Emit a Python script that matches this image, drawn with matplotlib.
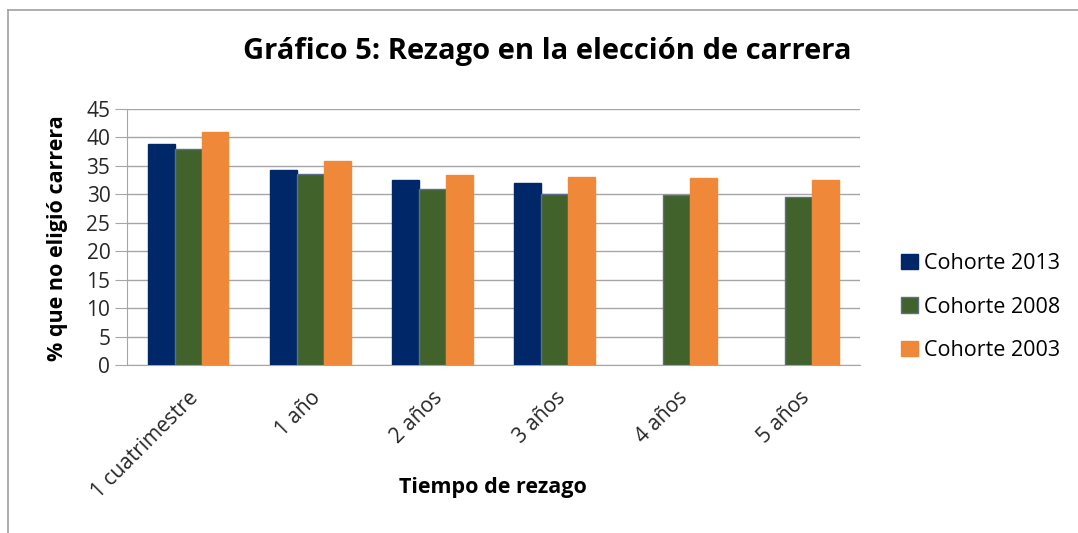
import numpy as np
import matplotlib
matplotlib.use("Agg")
import matplotlib.pyplot as plt
from matplotlib.lines import Line2D

plt.rcParams['font.family'] = ['Open Sans', 'DejaVu Sans']

# datos
categorias = ['1 cuatrimestre', '1 año', '2 años', '3 años', '4 años', '5 años']
cohorte_2013 = [38.8, 34.3, 32.6, 32.0, np.nan, np.nan]
cohorte_2008 = [38.0, 33.6, 30.9, 30.0, 29.9, 29.6]
cohorte_2003 = [40.9, 35.8, 33.4, 33.1, 32.9, 32.6]
series = ['Cohorte 2013', 'Cohorte 2008', 'Cohorte 2003']
colores = ['#002868', '#42622B', '#F0883A']
bordes = ['#002868', '#5B6E8C', '#F0883A']

fig = plt.figure(figsize=(10.78, 5.33), dpi=100)
ax = fig.add_axes([127 / 1078, 168 / 533, 733 / 1078, 256 / 533])

x = np.arange(len(categorias))
ancho = 0.22
for i, (vals, nombre) in enumerate(zip([cohorte_2013, cohorte_2008, cohorte_2003], series)):
    ax.bar(x + (i - 1) * ancho, vals, ancho, color=colores[i], edgecolor=bordes[i],
           linewidth=1.0, label=nombre, zorder=3)

ax.set_xlim(-0.5, len(categorias) - 0.5)
ax.set_ylim(0, 45)
ax.set_yticks(range(0, 46, 5))
ax.yaxis.grid(True, color='#A6A6A6', linewidth=1.0, zorder=0)
ax.tick_params(axis='y', length=9, color='#A6A6A6', labelsize=15, pad=3)
ax.tick_params(axis='x', length=0, labelsize=15, pad=16)
ax.set_xticks(x)
ax.set_xticklabels(categorias, rotation=45, ha='right', rotation_mode='anchor')
for s in ['top', 'right']:
    ax.spines[s].set_visible(False)
ax.spines['left'].set_color('#A6A6A6')
ax.spines['bottom'].set_color('#A6A6A6')
for t in ax.get_xticklabels() + ax.get_yticklabels():
    t.set_color('#262626')

ax.set_ylabel('% que no eligió carrera', fontsize=15.5, fontweight='bold')
ax.yaxis.set_label_coords(57 / 1078, 1 - 238 / 533, transform=fig.transFigure)
ax.set_xlabel('Tiempo de rezago', fontsize=15.5, fontweight='bold')
ax.xaxis.set_label_coords(493 / 1078, 1 - 488 / 533, transform=fig.transFigure)
ax.xaxis.label.set_va('center')
ax.yaxis.label.set_va('center')

fig.text(547 / 1078, 1 - 52 / 533, 'Gráfico 5: Rezago en la elección de carrera',
         ha='center', va='center', fontsize=21, fontweight='bold')

ley = ax.legend(loc='center left', bbox_to_anchor=(882 / 1078, 1 - 307 / 533),
                bbox_transform=fig.transFigure, frameon=False, fontsize=15.5,
                handlelength=0.75, handleheight=0.75, handletextpad=0.3, labelspacing=1.05)

# borde del área del gráfico
fig.add_artist(Line2D([8 / 1078, 8 / 1078], [0, 1 - 10 / 533], transform=fig.transFigure,
                      color='#A0A0A0', linewidth=1.2))
fig.add_artist(Line2D([8 / 1078, 1], [1 - 10 / 533, 1 - 10 / 533], transform=fig.transFigure,
                      color='#A0A0A0', linewidth=1.2))

fig.savefig('out.png', dpi=100)
